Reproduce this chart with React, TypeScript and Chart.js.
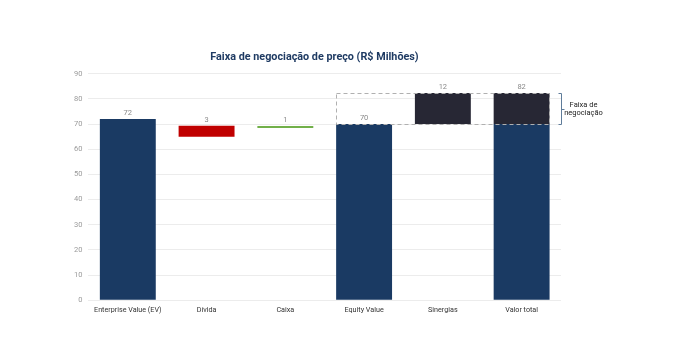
import React, { useEffect, useRef } from "react";
import { Chart, registerables } from "chart.js";

Chart.register(...registerables);

const categories = ["Enterprise Value (EV)", "Dívida", "Caixa", "Equity Value", "Sinergias", "Valor total"];
const navyBars: ([number, number] | null)[] = [[0, 72], null, null, [0, 70], null, [0, 70]];
const debtBars: ([number, number] | null)[] = [null, [65, 69.3], null, null, null, null];
const cashBars: ([number, number] | null)[] = [null, null, [68.4, 69.2], null, null, null];
const synergyBars: ([number, number] | null)[] = [null, null, null, null, [70, 82.3], [70, 82.3]];
const valueLabels = ["72", "3", "1", "70", "12", "82"];
const rangeLow = 70;
const rangeHigh = 82.3;
const rangeFromIndex = 3;
const rangeToIndex = 5;
const rangeText = ["Faixa de", "negociação"];
const yTicksMax = 90;
const titleText = "Faixa de negociação de preço (R$ Milhões)";

const FONT = "Roboto, 'Noto Sans', sans-serif";

const overlayPlugin = {
  id: "overlay",
  afterDatasetsDraw(chart: any) {
    const { ctx, scales, chartArea } = chart;
    const x = scales.x;
    const y = scales.y;
    ctx.save();
    ctx.font = `7.5px ${FONT}`;
    ctx.fillStyle = "#8a8a8a";
    ctx.textAlign = "center";
    ctx.textBaseline = "middle";
    categories.forEach((_, i) => {
      let top = Infinity;
      let cx = x.getPixelForValue(i);
      chart.data.datasets.forEach((ds: any, di: number) => {
        const v = ds.data[i];
        if (v) {
          const el = chart.getDatasetMeta(di).data[i];
          const t = Math.min(y.getPixelForValue(v[0]), y.getPixelForValue(v[1]));
          if (t < top) { top = t; cx = el.x; }
        }
      });
      ctx.fillText(valueLabels[i], cx, top - 6);
    });
    ctx.restore();

    const meta0 = chart.getDatasetMeta(0);
    const elA = meta0.data[rangeFromIndex];
    const elB = meta0.data[rangeToIndex];
    const left = elA.x - elA.width / 2;
    const right = elB.x + elB.width / 2;
    const yTop = y.getPixelForValue(rangeHigh);
    const yBot = y.getPixelForValue(rangeLow);
    ctx.save();
    ctx.strokeStyle = "#b0b0b0";
    ctx.lineWidth = 1;
    ctx.setLineDash([4, 3]);
    ctx.strokeRect(Math.round(left) + 0.5, Math.round(yTop) + 0.5, Math.round(right - left), Math.round(yBot - yTop));
    ctx.restore();

    const bx = Math.round(chartArea.right) + 0.5;
    ctx.save();
    ctx.strokeStyle = "#5f7c9a";
    ctx.lineWidth = 1;
    ctx.beginPath();
    ctx.moveTo(bx - 3, Math.round(yTop) + 0.5);
    ctx.lineTo(bx, Math.round(yTop) + 0.5);
    ctx.lineTo(bx, Math.round(yBot) + 0.5);
    ctx.lineTo(bx - 3, Math.round(yBot) + 0.5);
    const ym = Math.round((yTop + yBot) / 2) + 0.5;
    ctx.moveTo(bx, ym);
    ctx.lineTo(bx + 3, ym);
    ctx.stroke();
    ctx.font = `7.5px ${FONT}`;
    ctx.fillStyle = "#222";
    ctx.textAlign = "center";
    ctx.textBaseline = "middle";
    ctx.fillText(rangeText[0], bx + 22, ym - 4.5);
    ctx.fillText(rangeText[1], bx + 22, ym + 3.5);
    ctx.restore();
  },
};

export default function App() {
  const ref = useRef<HTMLCanvasElement>(null);
  useEffect(() => {
    if (!ref.current) return;
    const common = { grouped: false, barPercentage: 0.71, categoryPercentage: 1, borderWidth: 0, borderSkipped: false };
    const chart = new Chart(ref.current, {
      type: "bar",
      data: {
        labels: categories,
        datasets: [
          { ...common, data: navyBars as any, backgroundColor: "#1a3a63" },
          { ...common, data: debtBars as any, backgroundColor: "#c00000" },
          { ...common, data: cashBars as any, backgroundColor: "#72b04a" },
          { ...common, data: synergyBars as any, backgroundColor: "#272734" },
        ],
      },
      options: {
        animation: false,
        responsive: true,
        maintainAspectRatio: false,
        layout: { padding: { left: 60, right: 128, top: 43, bottom: 28 } },
        plugins: {
          legend: { display: false },
          tooltip: { enabled: false },
          title: {
            display: true,
            text: titleText,
            color: "#1f3b63",
            font: { family: FONT, size: 10.8, weight: "bold" },
            padding: { top: 0, bottom: 9.7 },
          },
        },
        scales: {
          x: {
            grid: { display: false, drawTicks: false },
            border: { display: false },
            ticks: { color: "#333", font: { family: FONT, size: 7.2 }, padding: 6, maxRotation: 0, autoSkip: false },
          },
          y: {
            min: 0,
            max: yTicksMax,
            grid: { color: "#ececec", drawTicks: false },
            border: { display: false },
            ticks: { stepSize: 10, color: "#9a9a9a", font: { family: FONT, size: 7.5 }, padding: 6 },
          },
        },
      },
      plugins: [overlayPlugin],
    });
    return () => chart.destroy();
  }, []);
  return (
    <div style={{ width: 681, height: 341, position: "relative" }}>
      <canvas ref={ref} />
    </div>
  );
}
